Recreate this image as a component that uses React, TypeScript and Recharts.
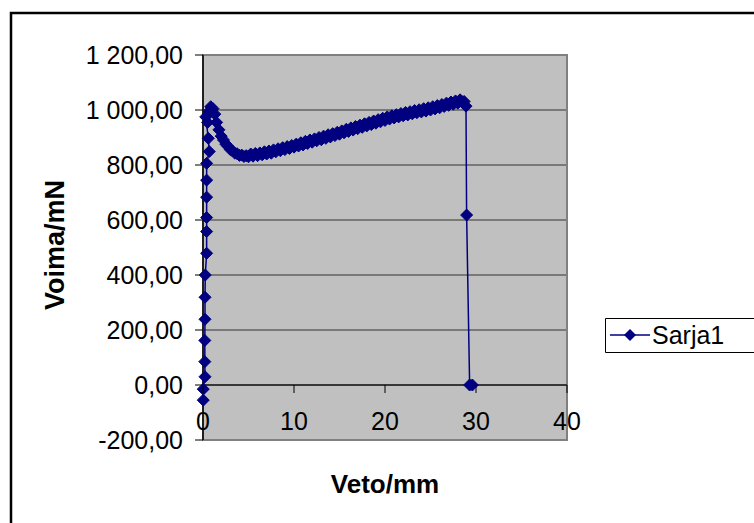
import { CartesianGrid, Line, LineChart, ReferenceArea, ReferenceLine, XAxis, YAxis } from "recharts";

const seriesName = "Sarja1";

// Veto (mm) and Voima (mN)
const veto = [
  0.03, 0.03, 0.22, 0.2, 0.2, 0.22, 0.22, 0.25, 0.4, 0.4, 0.4, 0.4, 0.4, 0.4, 0.69, 0.58,
  0.3, 0.5, 0.65, 0.85, 1.1, 1.3, 1.5, 1.75,
  2.0, 2.25, 2.5, 2.75, 3.0, 3.25, 3.5, 3.75, 4.0, 4.25, 4.5, 4.75,
  5.0, 5.25, 5.5, 5.75, 6.0, 6.25, 6.5, 6.75, 7.0, 7.25, 7.5, 7.75,
  8.0, 8.25, 8.5, 8.75, 9.0, 9.25, 9.5, 9.75, 10.0, 10.25, 10.5, 10.75,
  11.0, 11.25, 11.5, 11.75, 12.0, 12.25, 12.5, 12.75, 13.0, 13.25, 13.5, 13.75,
  14.0, 14.25, 14.5, 14.75, 15.0, 15.25, 15.5, 15.75, 16.0, 16.25, 16.5, 16.75,
  17.0, 17.25, 17.5, 17.75, 18.0, 18.25, 18.5, 18.75, 19.0, 19.25, 19.5, 19.75,
  20.0, 20.25, 20.5, 20.75, 21.0, 21.25, 21.5, 21.75, 22.0, 22.25, 22.5, 22.75,
  23.0, 23.25, 23.5, 23.75, 24.0, 24.25, 24.5, 24.75, 25.0, 25.25, 25.5, 25.75,
  26.0, 26.25, 26.5, 26.75, 27.0, 27.25, 27.5, 27.75, 28.0, 28.25, 28.5, 28.7,
  28.9, 28.97, 29.3, 29.6,
];
const voima = [
  -55, -15, 30, 85, 162, 239, 319, 400, 479, 558, 609, 683, 745, 806, 849, 897,
  975, 955, 995, 1012, 1005, 985, 955, 928,
  905, 891, 876, 868, 856, 851, 843, 841, 835, 836, 831, 834,
  830, 840, 832, 842, 834, 844, 837, 848, 840, 851, 843, 855,
  848, 859, 852, 863, 856, 867, 860, 871, 865, 876, 869, 881,
  873, 886, 878, 891, 883, 895, 888, 900, 892, 905, 897, 910,
  902, 914, 907, 919, 912, 924, 917, 930, 922, 935, 927, 940,
  932, 945, 937, 950, 942, 955, 947, 960, 952, 965, 957, 970,
  962, 975, 967, 979, 971, 983, 975, 987, 979, 991, 982, 994,
  986, 998, 990, 1001, 993, 1005, 996, 1008, 1000, 1012, 1004, 1016,
  1008, 1020, 1013, 1025, 1017, 1029, 1021, 1033, 1025, 1037, 1030, 1031,
  1014, 618, 0, 0,
];

const xTicks = [0, 10, 20, 30, 40];
const yTicks = [-200, 0, 200, 400, 600, 800, 1000, 1200];

const data = veto.map((v, i) => ({ veto: v, voima: voima[i] }));

const W = 754;
const H = 523;
const TOP = 55;
const XAXIS_H = 83;
const navy = "#000080";
const font = "'Liberation Sans', Arial, sans-serif";

const yMin = yTicks[0];
const yMax = yTicks[yTicks.length - 1];
const zeroY = TOP + ((yMax - 0) / (yMax - yMin)) * (H - XAXIS_H - TOP);

function fmt(v: number) {
  const [int, dec] = Math.abs(v).toFixed(2).split(".");
  const grouped = int.replace(/\B(?=(\d{3})+(?!\d))/g, " ");
  return (v < 0 ? "-" : "") + grouped + "," + dec;
}

function diamond(cx: number, cy: number, r: number) {
  return `M${cx},${cy - r}L${cx + r},${cy}L${cx},${cy + r}L${cx - r},${cy}Z`;
}

function Dot(props: any) {
  const { cx, cy, index } = props;
  if (cx == null || cy == null) return <g key={index} />;
  return <path key={index} d={diamond(cx, cy, 6)} fill={navy} stroke={navy} strokeWidth={1} />;
}

// x labels hang under the zero line, like Excel does
function XTick(props: any) {
  const { x, payload } = props;
  return (
    <g>
      <line x1={x} x2={x} y1={zeroY} y2={zeroY + 8} stroke="#000" />
      <text x={x} y={zeroY + 45} textAnchor="middle" fontSize={25} fontFamily={font} fill="#000">
        {payload.value}
      </text>
    </g>
  );
}

export default function App() {
  return (
    <div style={{ position: "fixed", left: 0, top: 0, width: W, height: H, overflow: "hidden", background: "#fff" }}>
      <LineChart width={W} height={H} data={data} margin={{ top: TOP, right: 187, bottom: 0, left: 0 }}>
        <CartesianGrid vertical={false} stroke="#333" fill="#C0C0C0" fillOpacity={1} />
        <ReferenceArea x1={0} x2={40} y1={-200} y2={1200} fill="none" stroke="#808080" strokeWidth={2} />
        <XAxis
          dataKey="veto"
          type="number"
          domain={[0, 40]}
          ticks={xTicks}
          interval={0}
          height={XAXIS_H}
          axisLine={false}
          tickLine={false}
          tick={<XTick />}
        />
        <YAxis
          type="number"
          domain={[yMin, yMax]}
          ticks={yTicks}
          interval={0}
          width={203}
          axisLine={{ stroke: "#000", strokeWidth: 1.5 }}
          tickLine={{ stroke: "#000" }}
          tickSize={8}
          tickMargin={12}
          tickFormatter={fmt}
          tick={{ fontSize: 25, fontFamily: font, fill: "#000" }}
        />
        <ReferenceLine y={0} stroke="#222" strokeWidth={1.5} />
        <Line
          dataKey="voima"
          name={seriesName}
          type="linear"
          stroke={navy}
          strokeWidth={1.5}
          dot={(p: any) => <Dot {...p} key={p.index} />}
          isAnimationActive={false}
        />
      </LineChart>
      <svg width={W} height={H} style={{ position: "absolute", left: 0, top: 0, pointerEvents: "none" }}>
        {/* outer chart frame: right and bottom edges fall outside the picture */}
        <path d="M11,540 L11,13 L780,13" fill="none" stroke="#000" strokeWidth={2.5} />
        <text
          x={55}
          y={245}
          transform="rotate(-90 55 245)"
          textAnchor="middle"
          dominantBaseline="central"
          fontSize={27}
          fontWeight="bold"
          fontFamily={font}
        >
          Voima/mN
        </text>
        <text x={385} y={493} textAnchor="middle" fontSize={26} fontWeight="bold" fontFamily={font}>
          Veto/mm
        </text>
        <rect x={605.5} y={318.5} width={200} height={34} fill="#fff" stroke="none" />
        <path d="M780,318.5 L605.5,318.5 L605.5,352.5 L780,352.5" fill="none" stroke="#000" strokeWidth={1} />
        <line x1={610} x2={650} y1={335} y2={335} stroke={navy} strokeWidth={1.5} />
        <path d={diamond(630, 335, 6)} fill={navy} />
        <text x={652} y={344} fontSize={25} fontFamily={font}>
          {seriesName}
        </text>
      </svg>
    </div>
  );
}
